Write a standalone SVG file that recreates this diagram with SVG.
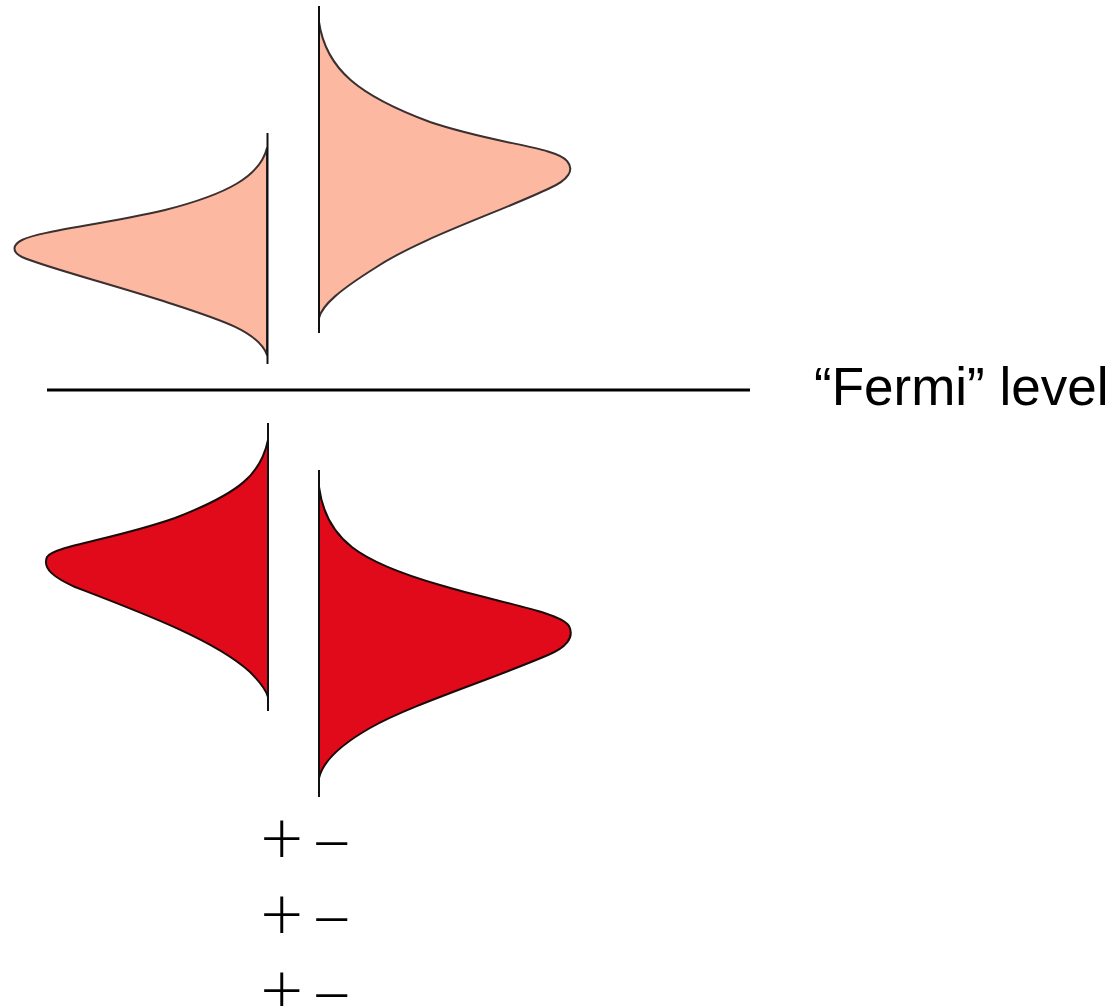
<svg xmlns="http://www.w3.org/2000/svg" width="1120" height="1006" viewBox="0 0 1120 1006">
<style>
.peach{fill:#FDB8A2;stroke:#3a3030;stroke-width:2;stroke-linejoin:round}
.red{fill:#E00A1A;stroke:#1a0a0a;stroke-width:2;stroke-linejoin:round}
.axis{stroke:#111;stroke-width:2;fill:none}
.lbl{font-family:"Liberation Sans",Arial,Helvetica,sans-serif;fill:#000}
.sign{font-family:Lato,"Liberation Sans",Arial,sans-serif;font-weight:300;font-size:75px;fill:#000}
</style>
<rect width="1120" height="1006" fill="#fff"/>
<g id="upper-left">
<path class="peach" d="M267,148 C260,176 228,194 165,210 C100,225 40,231 22,240 C12,245 12,252 22,257 C45,267 100,281 160,300 C215,318 258,330 267,355 Z"/>
<line class="axis" x1="267.5" y1="133" x2="267.5" y2="364"/>
</g>
<g id="upper-right">
<path class="peach" d="M319,22 C326,70 360,96 430,122 C495,144 556,147 567,161 C575,170 568,180 550,188 C500,212 420,238 375,268 C340,290 322,305 319,318 Z"/>
<line class="axis" x1="319" y1="6" x2="319" y2="333"/>
</g>
<g id="fermi-level">
<line x1="47" y1="390" x2="750" y2="390" stroke="#000" stroke-width="3"/>
<text class="lbl" x="814" y="405" font-size="53">“Fermi” level</text>
</g>
<g id="lower-left">
<path class="red" d="M268,440 C261,474 240,493 175,518 C112,540 54,546 47,557 C42,569 55,578 75,587 C140,612 215,640 250,672 C262,684 266,690 268,697 Z"/>
<line class="axis" x1="268" y1="423" x2="268" y2="711"/>
</g>
<g id="lower-right">
<path class="red" d="M319,487 C326,540 360,562 440,585 C500,603 560,612 569,626 C575,638 565,648 548,655 C490,680 410,705 370,728 C335,748 322,765 319,778 Z"/>
<line class="axis" x1="319" y1="470" x2="319" y2="797"/>
</g>
<g id="charges">
<text class="sign"><tspan x="260" y="864">+</tspan><tspan x="310" y="869">−</tspan><tspan x="260" y="940">+</tspan><tspan x="310" y="945">−</tspan><tspan x="260" y="1016">+</tspan><tspan x="310" y="1021">−</tspan></text>
</g>
<g id="connectors"/>
</svg>
